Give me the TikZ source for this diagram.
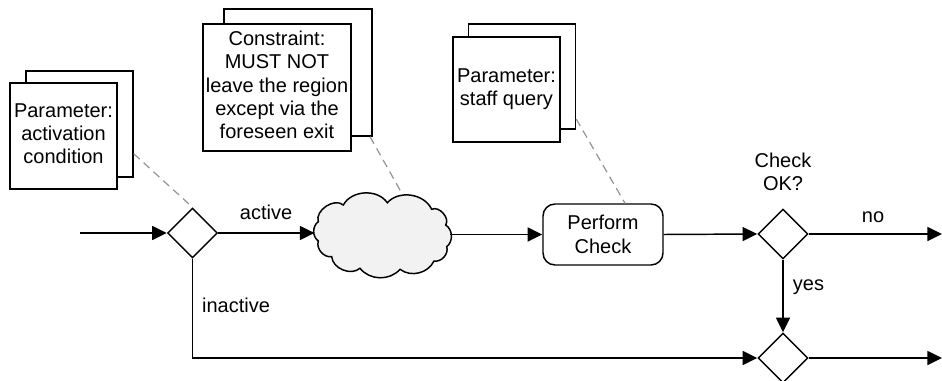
\documentclass[tikz,border=0pt]{standalone}
\usepackage{fontspec}
\setmainfont{Liberation Sans}
\usetikzlibrary{shapes.geometric,arrows.meta}

\tikzset{
  every node/.style={font=\fontsize{15}{17.5}\selectfont, align=center},
  docfront/.style={draw, line width=1.1pt, fill=white, minimum width=#1, inner sep=2pt},
  docback/.style={draw, line width=1.1pt, fill=white, minimum width=#1},
  gate/.style={diamond, draw, line width=1.1pt, fill=white, minimum size=37.5pt, inner sep=0pt},
  task/.style={draw, line width=1.1pt, rounded corners=9pt, minimum width=90pt, minimum height=45.75pt},
  flow/.style={line width=1.1pt, -{Triangle[length=11pt,width=10.5pt]}},
  cloudline/.style={draw, line width=1.1pt, fill=gray!10},
  assoc/.style={draw=gray!85, line width=0.9pt, dash pattern=on 6pt off 4pt},
  lbl/.style={inner sep=0pt}
}
\newcommand{\stacked}[2]{\raisebox{#1}{\begin{tabular}{@{}c@{}}#2\end{tabular}}}

\begin{document}
\begin{tikzpicture}[x=0.75pt, y=-0.75pt]
  \useasboundingbox (0,0) rectangle (942,381);

  % annotation documents (a shadow sheet behind each front sheet)
  \node[docback=80.25pt, minimum height=79.5pt] (p1b) at (79.5,124) {};
  \node[docfront=80.25pt, minimum height=79.5pt] (p1) at (63.5,136)
       {\stacked{-4pt}{Parameter:\\activation\\condition}};

  \node[docback=111pt, minimum height=95.25pt] (c1b) at (298,72.5) {};
  \node[docfront=111pt, minimum height=95.25pt] (c1) at (277,87.5)
       {\stacked{0pt}{Constraint:\\MUST NOT\\leave the region\\except via the\\foreseen exit}};

  \node[docback=80.25pt, minimum height=78.75pt] (p2b) at (522,76.5) {};
  \node[docfront=80.25pt, minimum height=78.75pt] (p2) at (506.5,89.5)
       {\stacked{3pt}{Parameter:\\staff query}};

  % process elements
  \coordinate (start) at (80,233);
  \node[gate] (d1) at (192.5,233) {};

  % the collapsed region, drawn as a cloud of puffs between its cusps
  \coordinate (cA) at (343.3,205);
  \coordinate (cB) at (387.3,202.7);
  \coordinate (cC) at (431.7,209.3);
  \coordinate (cD) at (445.7,225);
  \coordinate (cE) at (446.7,246.7);
  \coordinate (cF) at (434,261);
  \coordinate (cG) at (400,269.3);
  \coordinate (cH) at (360,268.3);
  \coordinate (cI) at (331.7,256.7);
  \coordinate (cJ) at (318.3,241);
  \coordinate (cK) at (318.3,221.7);
  \path[cloudline] (cA) to[bend left=58] (cB) to[bend left=56] (cC)
        to[bend left=75] (cD) to[bend left=55] (cE) to[bend left=60] (cF)
        to[bend left=51] (cG) to[bend left=50] (cH) to[bend left=63] (cI)
        to[bend left=58] (cJ) to[bend left=55] (cK) to[bend left=75] (cA) -- cycle;
  \coordinate (clW) at (314.5,233);
  \coordinate (clE) at (450,234.5);
  \coordinate (clN) at (402.5,194.5);

  \node[task] (pc) at (603,234.5) {Perform\\Check};
  \node[gate] (d2) at (783,234) {};
  \node[gate] (d3) at (783,358) {};
  \coordinate (end1) at (942,234);
  \coordinate (end2) at (942,358);

  % labels
  \node[lbl] (lactive) at (266,212) {active};
  \node[lbl] (linactive) at (236,305) {inactive};
  \node[lbl] (lcheck) at (783,172) {Check\\OK?};
  \node[lbl] (lno) at (873,217) {no};
  \node[lbl] (lyes) at (808.5,287) {yes};

  % sequence flows
  \draw[flow] (start) -- (d1.west);
  \draw[flow] (d1.east) -- (clW);
  \draw[flow] (clE) -- (pc.west);
  \draw[flow] (pc.east) -- (d2.west);
  \draw[flow] (d2.east) -- (end1);
  \draw[flow] (d2.south) -- (d3.north);
  \draw[flow] (d1.south) |- (d3.west);
  \draw[flow] (d3.east) -- (end2);

  % associations
  \draw[assoc] ([yshift=18pt]p1b.south east) -- (d1.north);
  \draw[assoc] ([xshift=-2pt]c1b.south east) -- (clN);
  \draw[assoc] ([yshift=8pt]p2b.south east) -- ([xshift=16.5pt]pc.north);
\end{tikzpicture}
\end{document}
